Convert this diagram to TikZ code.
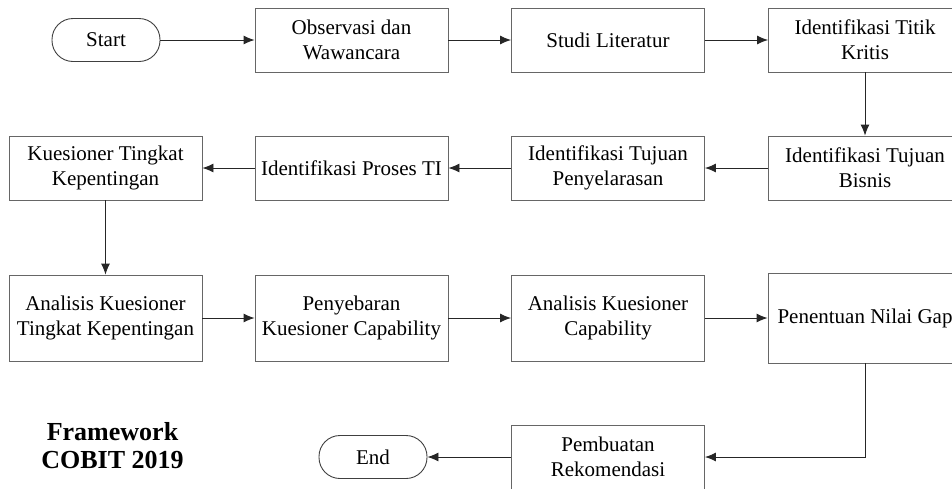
\documentclass[tikz,border=0pt]{standalone}
\usepackage{fontspec}
\setmainfont{Liberation Serif}
\usetikzlibrary{positioning,arrows.meta}

\begin{document}
\begin{tikzpicture}[
  x=1pt, y=-1pt,
  block/.style={rectangle, draw=black!60, line width=0.9pt, minimum width=193pt, minimum height=64pt,
    inner sep=2pt, align=center, font=\fontsize{21}{25}\selectfont},
  term/.style={rectangle, rounded corners=21pt, draw=black!75, line width=0.9pt, minimum width=108pt,
    minimum height=43pt, font=\fontsize{21}{25}\selectfont},
  flow/.style={-{Latex[length=11pt,width=9pt]}, line width=0.9pt, draw=black!85},
]
\useasboundingbox (0,0) rectangle (952,488);
\clip (0,0) rectangle (952,488);

% Row 1
\node (start) [term] at (106,40) {Start};
\node (obs) [block, right of=start, node distance=245.5pt] {Observasi dan\\Wawancara};
\node (studi) [block, right of=obs, node distance=256.5pt] {Studi Literatur};
\node (titik) [block, right of=studi, node distance=257pt] {Identifikasi Titik\\Kritis};

% Row 2
\node (bisnis) [block, below of=titik, node distance=128pt] {Identifikasi Tujuan\\Bisnis};
\node (selaras) [block, left of=bisnis, node distance=257pt] {Identifikasi Tujuan\\Penyelarasan};
\node (proses) [block, left of=selaras, node distance=256.5pt] {Identifikasi Proses TI};
\node (kuesioner) [block, left of=proses, node distance=246pt] {Kuesioner Tingkat\\Kepentingan};

% Row 3
\node (analisis1) [block, minimum height=86pt, below of=kuesioner, node distance=150pt] {Analisis Kuesioner\\Tingkat Kepentingan};
\node (sebar) [block, minimum height=86pt, right of=analisis1, node distance=246pt] {Penyebaran\\Kuesioner Capability};
\node (analisis2) [block, minimum height=86pt, right of=sebar, node distance=256.5pt] {Analisis Kuesioner\\Capability};
\node (gap) [block, minimum height=90pt, minimum width=194pt, right of=analisis2, node distance=257pt] {Penentuan Nilai Gap};

% Row 4
\node (rekom) [block, below of=analisis2, node distance=139pt] {Pembuatan\\Rekomendasi};
\node (end) [term, left of=rekom, node distance=235pt] {End};

% Connections
\draw[flow] (start) -- (obs);
\draw[flow] (obs) -- (studi);
\draw[flow] (studi) -- (titik);
\draw[flow] (titik) -- (bisnis);
\draw[flow] (bisnis) -- (selaras);
\draw[flow] (selaras) -- (proses);
\draw[flow] (proses) -- (kuesioner);
\draw[flow] (kuesioner) -- (analisis1);
\draw[flow] (analisis1) -- (sebar);
\draw[flow] (sebar) -- (analisis2);
\draw[flow] (analisis2) -- (gap);
\draw[flow] (gap) |- (rekom);
\draw[flow] (rekom) -- (end);

% Label
\node (cobit) [align=center, font=\fontsize{26}{28}\selectfont\bfseries] at (112.5,446) {Framework\\COBIT 2019};

\end{tikzpicture}
\end{document}
